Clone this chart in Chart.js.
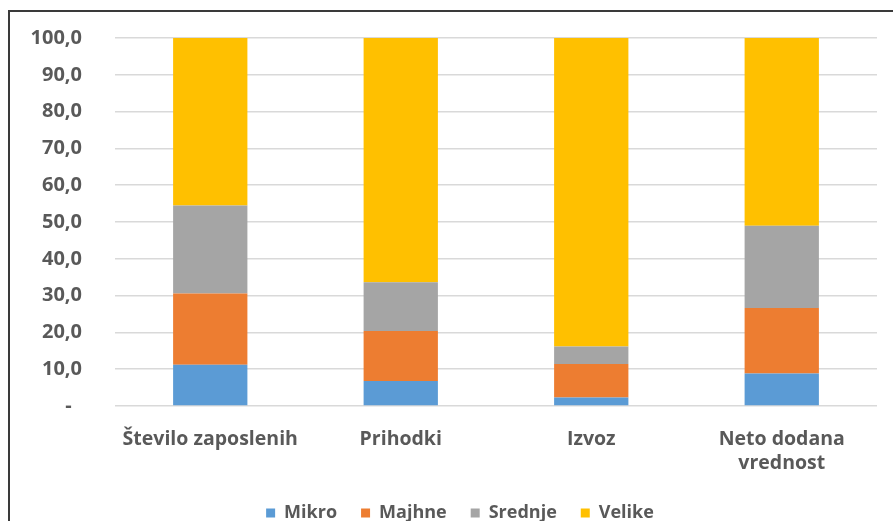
<!DOCTYPE html>
<html>
<head>
<meta charset="utf-8">
<script src="https://cdn.jsdelivr.net/npm/chart.js@4"></script>
<style>
  html, body { margin: 0; padding: 0; background: #fff; overflow: hidden; }
  body { width: 893px; height: 521px; position: relative; }
  #frame {
    position: absolute; left: 8px; top: 10px; width: 900px; height: 530px;
    border-left: 2px solid #3a3a3a; border-top: 2px solid #3a3a3a;
    pointer-events: none;
  }
  #wrap { position: absolute; left: 0; top: 0; width: 893px; height: 532px; }
</style>
</head>
<body>
<div id="wrap"><canvas id="chart"></canvas></div>
<div id="frame"></div>
<script>
// categories and shares (%) by company size
const categories = ['Število zaposlenih', 'Prihodki', 'Izvoz', ['Neto dodana', 'vrednost']];
const mikro   = [11.2, 6.8, 2.3, 8.8];
const majhne  = [19.4, 13.6, 9.1, 17.8];
const srednje = [23.9, 13.2, 4.8, 22.4];
const velike  = [45.5, 66.4, 83.8, 51.0];
const yTicks  = [0, 10, 20, 30, 40, 50, 60, 70, 80, 90, 100];

const textColor = '#595959';
const fontFamily = '"Open Sans", sans-serif';

function ds(label, data, color) {
  return { label, data, backgroundColor: color, barPercentage: 0.39, categoryPercentage: 1 };
}

new Chart(document.getElementById('chart'), {
  type: 'bar',
  data: {
    labels: categories,
    datasets: [
      ds('Mikro', mikro, '#5B9BD5'),
      ds('Majhne', majhne, '#ED7D31'),
      ds('Srednje', srednje, '#A5A5A5'),
      ds('Velike', velike, '#FFC000')
    ]
  },
  options: {
    responsive: true,
    maintainAspectRatio: false,
    animation: false,
    layout: { padding: { left: 27, right: 0, top: 38, bottom: 0 } },
    plugins: {
      tooltip: { enabled: false },
      legend: {
        position: 'bottom',
        labels: {
          boxWidth: 9, boxHeight: 9, padding: 24,
          color: textColor,
          font: { family: fontFamily, size: 18, weight: 'bold' }
        }
      }
    },
    scales: {
      x: {
        stacked: true,
        grid: { display: false },
        border: { display: false },
        ticks: {
          color: textColor, padding: 13,
          font: { family: fontFamily, size: 19.5, weight: 'bold', lineHeight: 1.25 }
        },
        afterFit: s => { s.height = 74; s.paddingLeft = 0; s.paddingRight = 16; }
      },
      y: {
        stacked: true,
        min: 0, max: 100,
        afterBuildTicks: s => { s.ticks = yTicks.map(v => ({ value: v })); },
        grid: { color: '#d9d9d9', lineWidth: 1.5, drawTicks: false },
        border: { display: false },
        ticks: {
          color: textColor, padding: 33,
          font: { family: fontFamily, size: 20, weight: 'bold' },
          callback: v => v === 0 ? '-  ' : v.toFixed(1).replace('.', ',')
        },
        afterFit: s => { s.width = 88; s.paddingTop = 0; s.paddingBottom = 0; }
      }
    }
  }
});
</script>
</body>
</html>
